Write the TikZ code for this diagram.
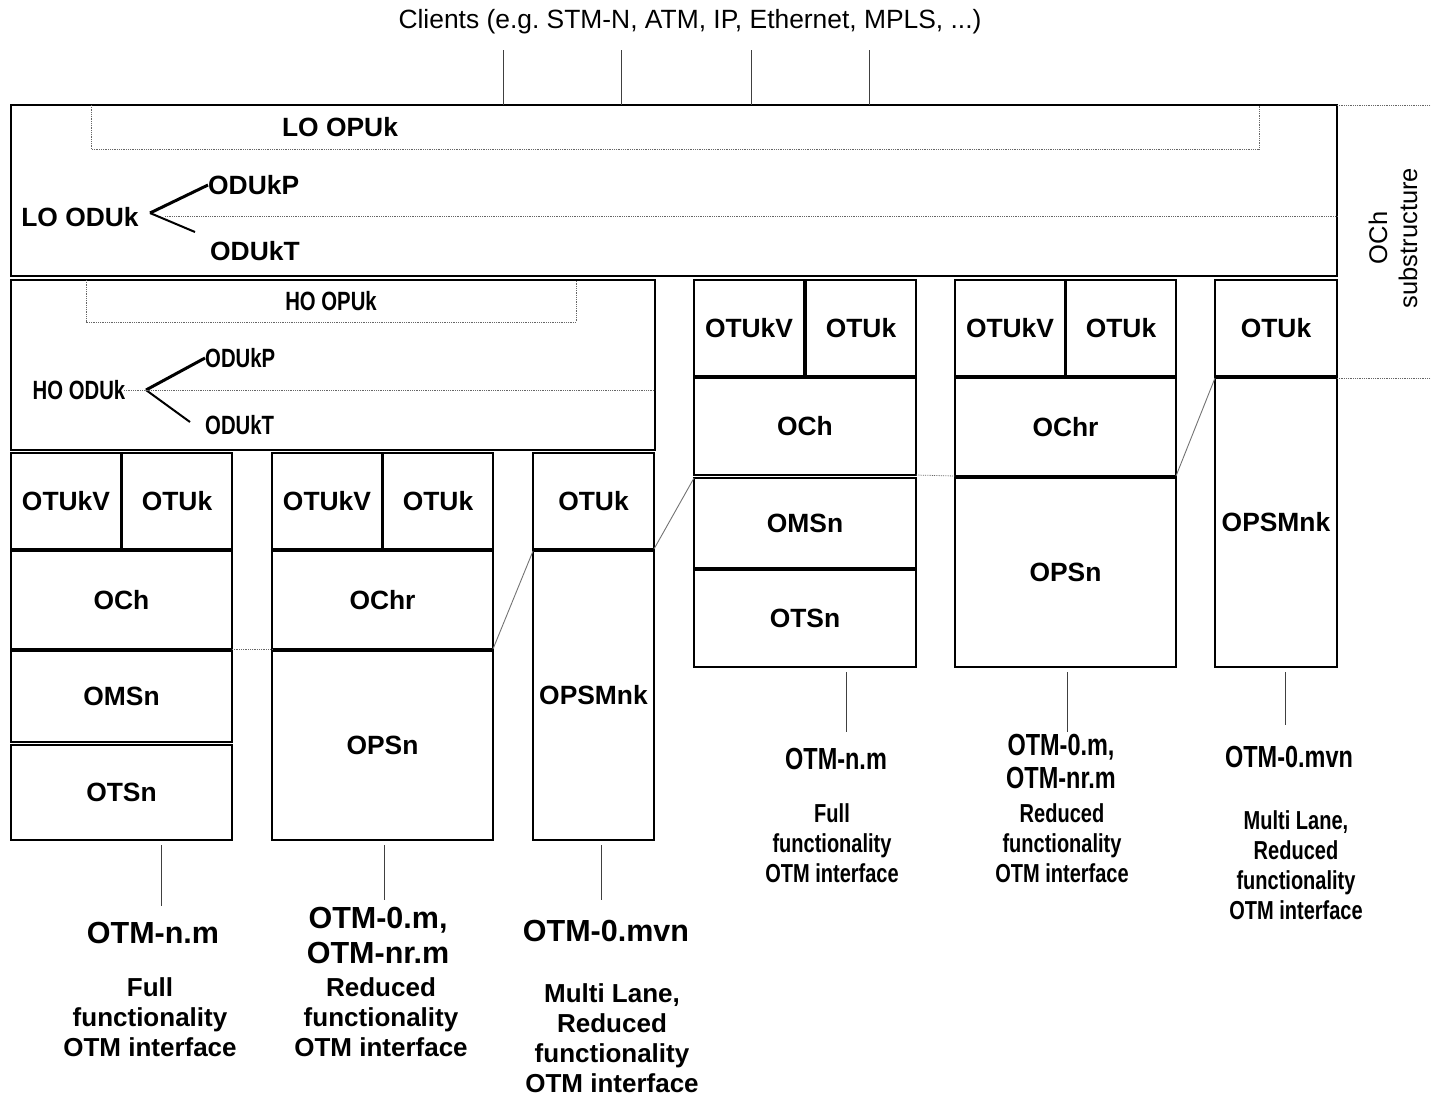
\documentclass[tikz,border=0pt]{standalone}
\usepackage{fontspec}
\setmainfont{Liberation Sans}
\frenchspacing
\newcommand\cond[1]{\scalebox{0.77}[1]{#1}}
\newcommand\mybox[6]{\node[blk, minimum width={#4-#2}, minimum height={#5-#3}] (#1) at ({(#2+#4)/2},{(#3+#5)/2}) {#6};}
\tikzset{
  blk/.style={draw=black, line width=1.2pt, inner sep=0pt, outer sep=0pt, font=\bfseries\fontsize{26.4}{30}\selectfont},
  lbl/.style={inner sep=0pt, font=\bfseries\fontsize{26}{30}\selectfont, align=center},
  ttl/.style={inner sep=0pt, font=\bfseries\fontsize{30.5}{35}\selectfont, align=center},
  dotl/.style={black!60, line width=0.8pt, densely dotted},
  glin/.style={black!55, line width=0.9pt},
  conn/.style={black!75, line width=1pt},
  brA/.style={line width=3pt},
  brB/.style={line width=2pt}
}
\begin{document}
\begin{tikzpicture}[x=1pt,y=-1pt]
\useasboundingbox (0,0) rectangle (1431,1096);
% clients
\node[inner sep=0pt, font=\fontsize{26.4}{30}\selectfont] (cl) at (690,22) {Clients (e.g. STM-N, ATM, IP, Ethernet, MPLS, ...)};
% big boxes
\mybox{lo}{11}{105}{1337}{276}{}
\mybox{ho}{11}{280}{655}{450}{}
\foreach \x in {503,621,751,869} \draw[conn] (\x,50) -- (lo.north -| \x,0);
% LO internals
\draw[dotl] (91,105) -- (91,149) -- (1259,149) -- (1259,105);
\node[lbl, font=\bfseries\fontsize{26.4}{30}\selectfont] (lopu) at (340,127) {LO OPUk};
\node[lbl, font=\bfseries\fontsize{26.4}{30}\selectfont] (lodu) at (80,217) {LO ODUk};
\node[lbl, anchor=west, font=\bfseries\fontsize{26.4}{30}\selectfont] (lodp) at (208,185) {ODUkP};
\node[lbl, anchor=west, font=\bfseries\fontsize{26.4}{30}\selectfont] (lodt) at (210,251) {ODUkT};
\coordinate (lb) at (150,213);
\coordinate (lbt) at (195,232);
\draw[brA] (lb) -- (lodp.west);
\draw[brB] (lb) -- (lbt);
\draw[dotl] (165,216) -- (1337,216);
\draw[dotl] (lo.north east) -- (1431,105);
% HO internals
\draw[dotl] (86,280) -- (86,322) -- (576,322) -- (576,280);
\node[lbl, font=\bfseries\fontsize{26.4}{30}\selectfont] (hopu) at (331,301) {\cond{HO OPUk}};
\node[lbl, font=\bfseries\fontsize{26.4}{30}\selectfont] (hodu) at (79,390) {\cond{HO ODUk}};
\node[lbl, anchor=west, font=\bfseries\fontsize{26.4}{30}\selectfont] (hodp) at (205,358) {\cond{ODUkP}};
\node[lbl, anchor=west, font=\bfseries\fontsize{26.4}{30}\selectfont] (hodt) at (205,425) {\cond{ODUkT}};
\coordinate (hb) at (146,390);
\coordinate (hbt) at (190,422);
\draw[brA] (hb) -- (hodp.west);
\draw[brB] (hb) -- (hbt);
\draw[dotl] (124,390) -- (655,390);
% OCh substructure
\node[rotate=90, align=center, inner sep=0pt, font=\fontsize{25.5}{30}\selectfont] (sub) at (1393,238) {OCh\\substructure};
% group 1
\mybox{otukvA}{11}{453}{121}{549}{OTUkV}
\mybox{otukA}{122}{453}{232}{549}{OTUk}
\mybox{ochA}{11}{551}{232}{649}{OCh}
\mybox{omsA}{11}{651}{232}{742}{OMSn}
\mybox{otsA}{11}{745}{232}{840}{OTSn}
% group 2
\mybox{otukvB}{272}{453}{382}{549}{OTUkV}
\mybox{otukB}{383}{453}{493}{549}{OTUk}
\mybox{ochrB}{272}{551}{493}{649}{OChr}
\mybox{opsB}{272}{651}{493}{840}{OPSn}
% group 3
\mybox{otukC}{533}{453}{654}{549}{OTUk}
\mybox{opsmC}{533}{551}{654}{840}{OPSMnk}
% group 4
\mybox{otukvD}{694}{280}{804}{376}{OTUkV}
\mybox{otukD}{806}{280}{916}{376}{OTUk}
\mybox{ochD}{694}{378}{916}{475}{OCh}
\mybox{omsD}{694}{478}{916}{568}{OMSn}
\mybox{otsD}{694}{570}{916}{667}{OTSn}
% group 5
\mybox{otukvE}{955}{280}{1065}{376}{OTUkV}
\mybox{otukE}{1066}{280}{1176}{376}{OTUk}
\mybox{ochrE}{955}{378}{1176}{476}{OChr}
\mybox{opsE}{955}{478}{1176}{667}{OPSn}
% group 6
\mybox{otukF}{1215}{280}{1337}{376}{OTUk}
\mybox{opsmF}{1215}{378}{1337}{667}{OPSMnk}
% links between groups
\draw[dotl] (ochA.south east) -- (ochrB.south west);
\draw[glin] (ochrB.south east) -- (opsmC.north west);
\draw[glin] (otukC.south east) -- (omsD.north west);
\draw[dotl] (ochD.south east) -- (ochrE.south west);
\draw[glin] (ochrE.south east) -- (opsmF.north west);
\draw[dotl] (opsmF.north east) -- (1431,378);
% bottom connectors
\coordinate (a1) at (161,845); \coordinate (a2) at (161,906);
\coordinate (b1) at (384,845); \coordinate (b2) at (384,900);
\coordinate (c1) at (601,845); \coordinate (c2) at (601,900);
\coordinate (d1) at (846,672); \coordinate (d2) at (846,732);
\coordinate (e1) at (1067,672); \coordinate (e2) at (1067,732);
\coordinate (f1) at (1285,672); \coordinate (f2) at (1285,725);
\draw[conn] (a1) -- (a2);
\draw[conn] (b1) -- (b2);
\draw[conn] (c1) -- (c2);
\draw[conn] (d1) -- (d2);
\draw[conn] (e1) -- (e2);
\draw[conn] (f1) -- (f2);
% bottom labels
\node[ttl] (tA) at (153,933) {OTM-n.m};
\node[lbl] (dA) at (150,1017) {Full\\functionality\\OTM interface};
\node[ttl] (tB) at (378,935.5) {OTM-0.m,\\OTM-nr.m};
\node[lbl] (dB) at (381,1017) {Reduced\\functionality\\OTM interface};
\node[ttl] (tC) at (606,931) {OTM-0.mvn};
\node[lbl] (dC) at (612,1038) {Multi Lane,\\Reduced\\functionality\\OTM interface};
\node[ttl, font=\bfseries\fontsize{30.5}{33}\selectfont] (tD) at (836,759) {\cond{OTM-n.m}};
\node[lbl] (dD) at (832,843) {\cond{Full}\\\cond{functionality}\\\cond{OTM interface}};
\node[ttl, font=\bfseries\fontsize{30.5}{33}\selectfont] (tE) at (1061,761.5) {\cond{OTM-0.m,}\\\cond{OTM-nr.m}};
\node[lbl] (dE) at (1062,843) {\cond{Reduced}\\\cond{functionality}\\\cond{OTM interface}};
\node[ttl] (tF) at (1289,757) {\cond{OTM-0.mvn}};
\node[lbl] (dF) at (1296,865) {\cond{Multi Lane,}\\\cond{Reduced}\\\cond{functionality}\\\cond{OTM interface}};
\end{tikzpicture}
\end{document}
